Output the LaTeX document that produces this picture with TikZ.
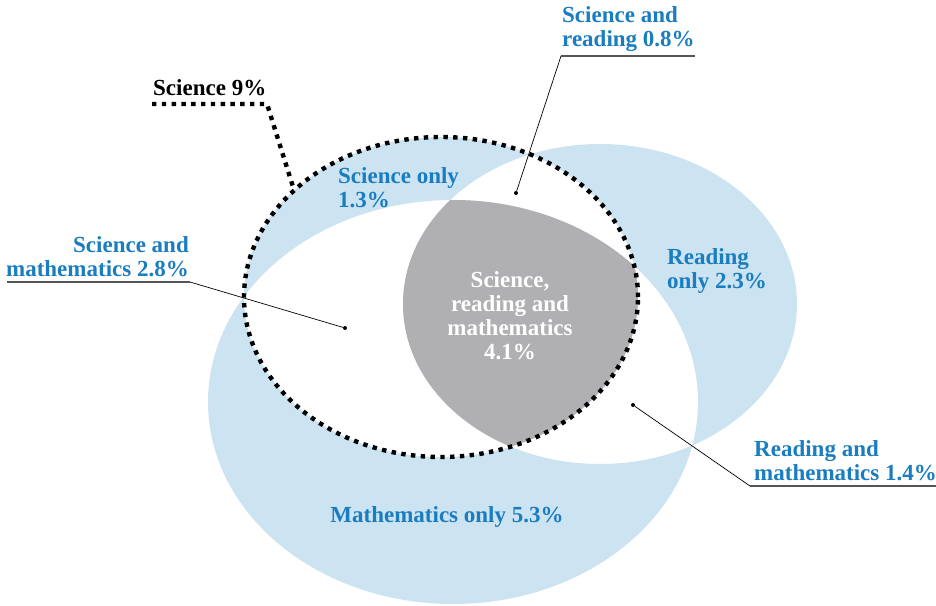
\documentclass[tikz,border=0pt]{standalone}
\usepackage{fontspec}
\setmainfont{Liberation Serif}
\usepackage{xcolor}
\usetikzlibrary{positioning}
\definecolor{paleblue}{HTML}{CCE3F1}
\definecolor{labelblue}{HTML}{1A7DC0}
\definecolor{coregray}{HTML}{B0B0B2}
\definecolor{rulegray}{HTML}{555555}

\begin{document}
\begin{tikzpicture}[
  x=1pt,y=-1pt,
  lbl/.style={inner sep=0pt,font=\fontsize{23}{24}\selectfont\bfseries,text=labelblue},
  dots/.style={line width=4.4pt,dash pattern=on 4.4pt off 5.4pt},
  lead/.style={draw=black,line width=0.7pt},
  uline/.style={draw=rulegray,line width=1.3pt},
  enddot/.style={circle,fill=black,inner sep=0pt,minimum size=4pt}
]
  \useasboundingbox (0,0) rectangle (936,605);
  \coordinate (sci) at (441,297);
  \coordinate (rea) at (600,304);
  \coordinate (mat) at (453,402);

  % one set blue, two sets white, all three gray
  \fill[paleblue,even odd rule]
    (sci) ellipse[x radius=197pt,y radius=160pt]
    (rea) ellipse[x radius=197pt,y radius=160pt]
    (mat) ellipse[x radius=245pt,y radius=202pt];
  \begin{scope}
    \clip (sci) ellipse[x radius=197pt,y radius=160pt];
    \clip (rea) ellipse[x radius=197pt,y radius=160pt];
    \fill[coregray] (mat) ellipse[x radius=245pt,y radius=202pt];
  \end{scope}
  \draw[dots] (sci) ellipse[x radius=197pt,y radius=160pt];

  % labels inside
  \node[lbl,anchor=north west,align=left] (sonly) at (338,167) {Science only\\1.3\%};
  \node[lbl,anchor=north west,align=left] (ronly) at (667,248) {Reading\\only 2.3\%};
  \node[lbl,anchor=center] (monly) at (447,517) {Mathematics only 5.3\%};
  \node[lbl,anchor=center,align=center,text=white] (all) at (510,316)
    {Science,\\reading and\\mathematics\\4.1\%};

  % science total
  \node[lbl,text=black,anchor=base west] (stot) at (153,95) {Science 9\%};
  \coordinate (stotl) at (152,104);
  \coordinate (stotr) at (267,104);
  \coordinate (stote) at (294,190);
  \draw[dots] (stotl) -- (stotr) -- (stote);

  % science and reading
  \node[lbl,anchor=south west,align=left] (sr) at (562,52) {Science and\\reading 0.8\%};
  \coordinate (srl) at (561,56);
  \coordinate (srr) at (695,56);
  \node[enddot] (srdot) at (516,193) {};
  \draw[uline] (srl) -- (srr);
  \draw[lead] (srl) -- (srdot);

  % science and mathematics
  \node[lbl,anchor=south east,align=right] (sm) at (189,277) {Science and\\mathematics 2.8\%};
  \coordinate (sml) at (7,282);
  \coordinate (smr) at (190,282);
  \node[enddot] (smdot) at (345,328) {};
  \draw[uline] (sml) -- (smr);
  \draw[lead] (smr) -- (smdot);

  % reading and mathematics
  \node[lbl,anchor=south west,align=left] (rm) at (754,481) {Reading and\\mathematics 1.4\%};
  \coordinate (rml) at (750,486);
  \coordinate (rmr) at (936,486);
  \node[enddot] (rmdot) at (633,405) {};
  \draw[uline] (rml) -- (rmr);
  \draw[lead] (rml) -- (rmdot);
\end{tikzpicture}
\end{document}
